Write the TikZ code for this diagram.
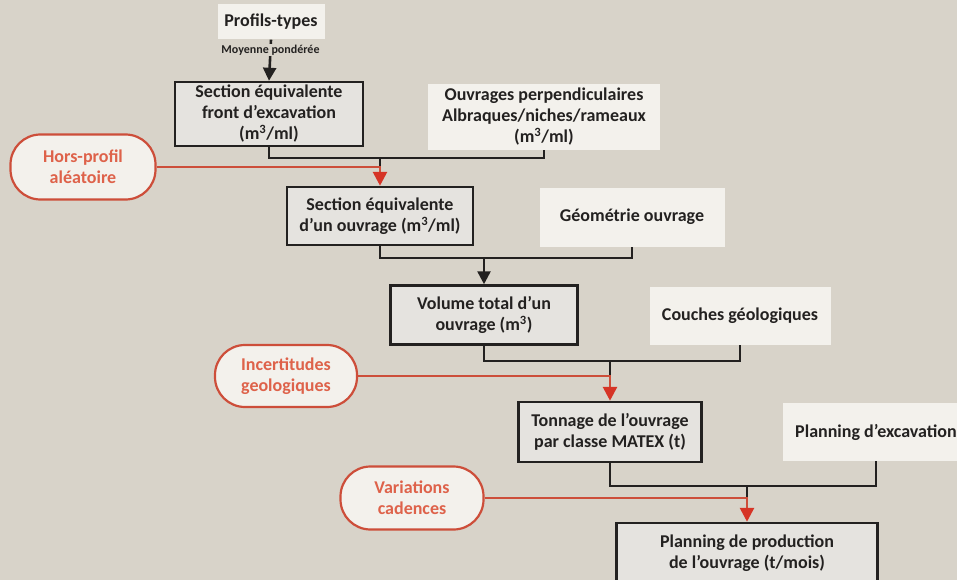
\documentclass[tikz,border=0pt]{standalone}
\usepackage{fontspec}
\setmainfont{Carlito}
\usetikzlibrary{arrows.meta}
\definecolor{fond}{RGB}{216,211,201}
\definecolor{grisbox}{RGB}{229,227,223}
\definecolor{clairbox}{RGB}{243,241,236}
\definecolor{rougelien}{RGB}{205,78,58}
\definecolor{rougefleche}{RGB}{214,52,38}
\definecolor{rougetexte}{RGB}{222,98,74}
\definecolor{encre}{RGB}{35,33,32}
\tikzset{
  calcul/.style={draw=encre, line width=2.5pt, fill=grisbox, align=center, inner sep=0pt},
  donnee/.style={fill=clairbox, align=center, inner sep=0pt},
  alea/.style={draw=rougelien, line width=2.2pt, fill=clairbox, rounded corners=30pt,
    text=rougetexte, align=center, inner sep=0pt},
  lien/.style={draw=encre, line width=2.6pt},
  fleche/.style={lien, -{Triangle[length=13pt,width=13pt]}},
  fleche rouge/.style={draw=rougelien, line width=2.8pt,
    -{Triangle[length=14pt,width=14pt,color=rougefleche]}},
}
\begin{document}
\begin{tikzpicture}[x=1pt,y=-1pt,font=\fontsize{18}{21}\selectfont\bfseries,text=encre]
  \fill[fond] (0,0) rectangle (957,580);
  \clip (0,0) rectangle (957,580);
  % entrees et calculs
  \node[donnee, minimum width=107pt, minimum height=35pt] (profils) at (271,22) {Profils-types};
  \node[calcul, minimum width=188pt, minimum height=64pt] (sef) at (269,114)
    {Section équivalente\\front d’excavation\\(m\textsuperscript{3}/ml)};
  \node[donnee, minimum width=232pt, minimum height=66pt] (opp) at (544,117)
    {Ouvrages perpendiculaires\\Albraques/niches/rameaux\\(m\textsuperscript{3}/ml)};
  \node[alea, minimum width=145pt, minimum height=65pt] (hp) at (83,167) {Hors-profil\\aléatoire};
  \node[calcul, minimum width=186pt, minimum height=58pt] (seo) at (380,216)
    {Section équivalente\\d’un ouvrage (m\textsuperscript{3}/ml)};
  \node[donnee, minimum width=185pt, minimum height=59pt] (geo) at (632,217) {Géométrie ouvrage};
  \node[calcul, minimum width=187pt, minimum height=59pt] (vol) at (484,315)
    {Volume total d’un\\ouvrage (m\textsuperscript{3})};
  \node[donnee, minimum width=181pt, minimum height=58pt] (couches) at (740,316) {Couches géologiques};
  \node[alea, minimum width=142pt, minimum height=62pt] (incert) at (286,376) {Incertitudes\\geologiques};
  \node[calcul, minimum width=183pt, minimum height=60pt] (tonnage) at (610,432)
    {Tonnage de l’ouvrage\\par classe MATEX (t)};
  \node[donnee, minimum width=187pt, minimum height=58pt] (planexc) at (876,432) {Planning d’excavation};
  \node[alea, minimum width=143pt, minimum height=63pt] (variations) at (412,498) {Variations\\cadences};
  \node[calcul, minimum width=261pt, minimum height=60pt] (prod) at (747,553)
    {Planning de production\\de l’ouvrage (t/mois)};
  % jonctions
  \coordinate (j1) at (380,158);
  \coordinate (j2) at (484,258);
  \coordinate (j3) at (610,361);
  \coordinate (j4) at (747,486);
  % liens
  \draw[fleche] (profils.south) -- node[pos=.25, fill=fond, inner sep=1pt,
    font=\fontsize{12}{14}\selectfont\bfseries] (moy) {Moyenne pondérée} (sef.north);
  \draw[lien] (sef.south) |- (j1) -| (opp.south);
  \draw[lien, shorten >=12pt] (j1) -- (seo.north);
  \draw[fleche rouge] (hp.east) -| (seo.north);
  \draw[lien] (seo.south) |- (j2) -| (geo.south);
  \draw[fleche] (j2) -- (vol.north);
  \draw[lien] (vol.south) |- (j3) -| (couches.south);
  \draw[lien, shorten >=12pt] (j3) -- (tonnage.north);
  \draw[fleche rouge] (incert.east) -| (tonnage.north);
  \draw[lien] (tonnage.south) |- (j4) -| (planexc.south);
  \draw[lien, shorten >=12pt] (j4) -- (prod.north);
  \draw[fleche rouge] (variations.east) -| (prod.north);
\end{tikzpicture}
\end{document}
